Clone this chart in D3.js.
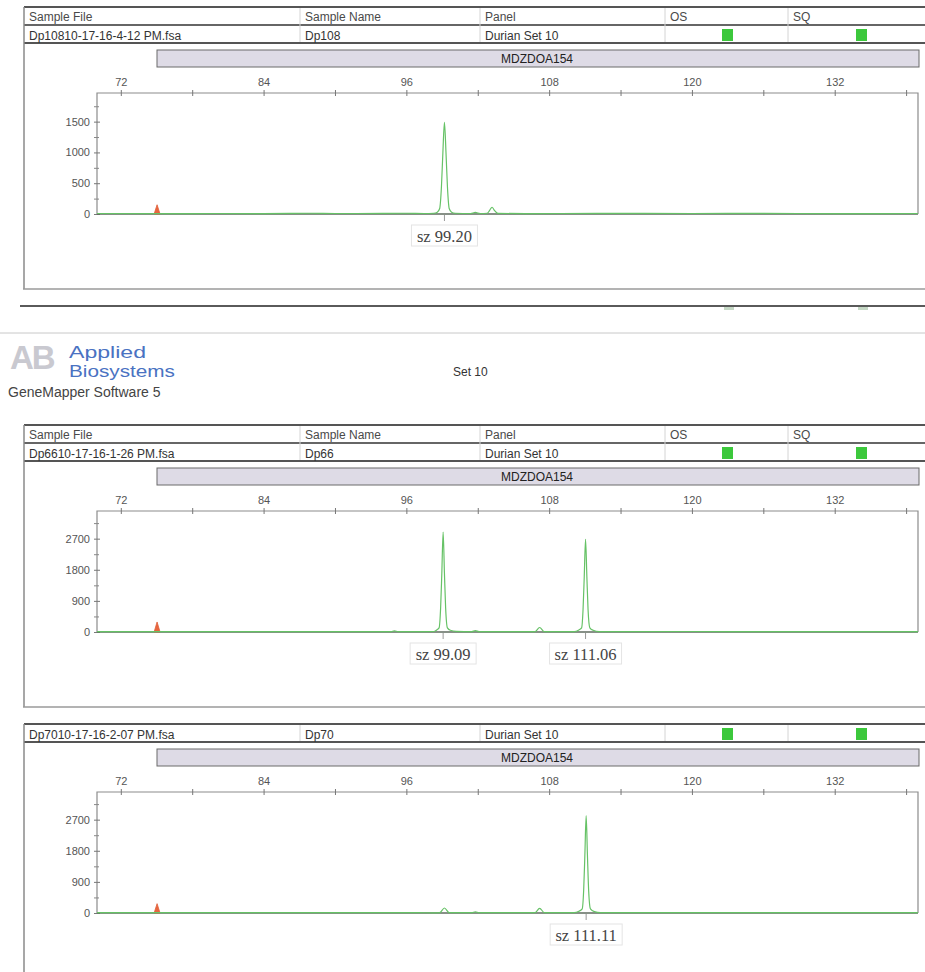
<!DOCTYPE html>
<html><head><meta charset="utf-8">
<script src="https://cdn.jsdelivr.net/npm/d3@7/dist/d3.min.js"></script>
<style>
html,body{margin:0;padding:0;background:#fff;}
svg{display:block;font-family:"Liberation Sans",Arial,sans-serif;}
</style></head><body>
<svg id="page" width="925" height="972"></svg>
<script>
// ---- data ----
const headerCols = ["Sample File", "Sample Name", "Panel", "OS", "SQ"];
const sampleFiles = ["Dp10810-17-16-4-12 PM.fsa", "Dp6610-17-16-1-26 PM.fsa", "Dp7010-17-16-2-07 PM.fsa"];
const sampleNames = ["Dp108", "Dp66", "Dp70"];
const panelNames = ["Durian Set 10", "Durian Set 10", "Durian Set 10"];
const markerName = "MDZDOA154";
const reportTitle = "Set 10";
const softwareName = "GeneMapper Software 5";

const bpDomain = [70, 139];
const xMajorTicks = [72, 84, 96, 108, 120, 132];
const xMinorTicks = [78, 90, 102, 114, 126, 138];
const yMax = [1965, 3500, 3500];
const yMajorTicks = [[0, 500, 1000, 1500], [0, 900, 1800, 2700], [0, 900, 1800, 2700]];
const yMinorTicks = [[250, 750, 1250, 1750], [450, 1350, 2250, 3150], [450, 1350, 2250, 3150]];

// allele calls (size in bp) for each sample
const sizeCalls = [[99.20], [99.09, 111.06], [111.11]];

// sample trace, [size bp, RFU]
const traceDp108 = [
  [70, 8], [76, 6], [80, 8], [84, 6], [88, 12], [90, 8], [94, 10], [96, 12], [97.5, 8],
  [98.3, 12], [98.6, 30], [98.8, 90], [98.95, 450], [99.07, 1000], [99.20, 1490],
  [99.33, 1000], [99.45, 450], [99.6, 90], [99.8, 30], [100.1, 12], [101.4, 8], [101.8, 25],
  [102.2, 8], [102.8, 12], [103.0, 60], [103.2, 110], [103.4, 60], [103.7, 10],
  [106, 6], [112, 10], [120, 8], [126, 10], [132, 6], [139, 8]
];
const traceDp66 = [
  [70, 8], [80, 8], [88, 10], [93, 8], [94.7, 10], [95.0, 35], [95.3, 10], [97, 8],
  [98.3, 15], [98.55, 60], [98.75, 120], [98.88, 700], [98.98, 1700], [99.09, 2890],
  [99.2, 1700], [99.3, 700], [99.45, 120], [99.7, 50], [100.2, 20], [101.5, 10], [101.8, 40],
  [102.1, 10], [106.8, 10], [107.2, 130], [107.6, 10], [110.1, 12], [110.5, 60],
  [110.73, 120], [110.85, 650], [110.95, 1600], [111.06, 2680], [111.17, 1600],
  [111.27, 650], [111.42, 120], [111.7, 50], [112.2, 12], [120, 15], [125, 8], [139, 8]
];
const traceDp70 = [
  [70, 8], [84, 8], [92, 10], [97, 8], [98.2, 6], [98.8, 12], [99.2, 145], [99.6, 12],
  [100.3, 8], [101.5, 8], [101.8, 35], [102.1, 8], [106.8, 8], [107.2, 135], [107.6, 10],
  [110.1, 10], [110.5, 50], [110.78, 120], [110.9, 650], [111.0, 1650], [111.11, 2816],
  [111.22, 1650], [111.32, 650], [111.47, 120], [111.8, 40], [112.3, 10], [120, 10], [139, 8]
];
const traces = [traceDp108, traceDp66, traceDp70];

// red size-standard peak near 75 bp
const sizeStdPeaks = [
  [[74.8, 0], [75.05, 150], [75.3, 0]],
  [[74.8, 0], [75.05, 290], [75.3, 0]],
  [[74.8, 0], [75.05, 270], [75.3, 0]]
];

// ---- layout ----
const layout = [
  { dataBottom: 43, header: true, boxBottom: 289 },
  { dataBottom: 461, header: true, boxBottom: 707 },
  { dataBottom: 742, header: false, boxBottom: null }
];
const colX = [29, 305, 485, 670, 793];
const colSep = [300, 480, 665, 788];
const W = 925, LEFT = 24;
const PX0 = 97, PX1 = 918;
const SANS = "Liberation Sans, Arial, sans-serif";
const SERIF = "Liberation Serif, Times New Roman, serif";

const svg = d3.select("#page");
svg.append("rect").attr("width", W).attr("height", 972).attr("fill", "#fff");

const x = d3.scaleLinear().domain(bpDomain).range([PX0, PX1]);

layout.forEach((L, i) => {
  const g = svg.append("g");
  const db = L.dataBottom;
  const rowTop = db - 18;
  const tableTop = L.header ? rowTop - 18 : rowTop;

  // table frame
  g.append("line").attr("x1", LEFT).attr("x2", W).attr("y1", tableTop).attr("y2", tableTop)
    .attr("stroke", "#555").attr("stroke-width", 2);
  if (L.header) {
    g.append("line").attr("x1", LEFT).attr("x2", W).attr("y1", rowTop).attr("y2", rowTop)
      .attr("stroke", "#666").attr("stroke-width", 2.2);
    headerCols.forEach((h, k) => {
      g.append("text").attr("x", colX[k]).attr("y", rowTop - 4).style("font-size", "12px")
        .style("fill", "#4a4a4a").text(h);
    });
  }
  g.append("line").attr("x1", LEFT).attr("x2", W).attr("y1", db).attr("y2", db)
    .attr("stroke", "#555").attr("stroke-width", 2);
  colSep.forEach(cx => {
    g.append("line").attr("x1", cx).attr("x2", cx).attr("y1", tableTop + 1).attr("y2", db - 1)
      .attr("stroke", "#d4d4d4").attr("stroke-width", 1);
  });
  g.append("line").attr("x1", LEFT).attr("x2", LEFT).attr("y1", tableTop)
    .attr("y2", L.boxBottom == null ? 972 : L.boxBottom)
    .attr("stroke", "#8a8a8a").attr("stroke-width", 1.5);

  // data row
  [sampleFiles[i], sampleNames[i], panelNames[i]].forEach((t, k) => {
    g.append("text").attr("x", colX[k]).attr("y", db - 3).style("font-size", "12px")
      .style("fill", "#333").text(t);
  });
  [722, 856].forEach(sx => {
    g.append("rect").attr("x", sx).attr("y", db - 14).attr("width", 11).attr("height", 12)
      .attr("fill", "#3cc83c");
  });

  // marker bin bar
  g.append("rect").attr("x", 157).attr("y", db + 7).attr("width", 762).attr("height", 17)
    .attr("fill", "#dedbe6").attr("stroke", "#6a6a6a").attr("stroke-width", 1);
  g.append("text").attr("x", 537).attr("y", db + 20).style("font-size", "12px")
    .attr("text-anchor", "middle").style("fill", "#222").text(markerName);

  // plot area
  const top = db + 50, base = db + 171;
  const y = d3.scaleLinear().domain([0, yMax[i]]).range([base, top]);

  g.append("path")
    .attr("d", `M${PX0},${base}V${top}H${PX1}V${base}`)
    .attr("fill", "none").attr("stroke", "#8c8c8c").attr("stroke-width", 1.2);

  // size axis along the top
  const ax = g.append("g").attr("transform", `translate(0,${top})`)
    .call(d3.axisTop(x).tickValues(xMajorTicks).tickSize(3).tickPadding(4).tickSizeOuter(0)
      .tickFormat(d3.format("d")));
  ax.select(".domain").remove();
  ax.selectAll(".tick line").attr("y1", 3).attr("stroke", "#777");
  ax.selectAll(".tick text").style("font-size", "11px").style("font-family", SANS).style("fill", "#555");
  const axm = g.append("g").attr("transform", `translate(0,${top})`)
    .call(d3.axisTop(x).tickValues(xMinorTicks).tickSize(3).tickFormat("").tickSizeOuter(0));
  axm.select(".domain").remove();
  axm.selectAll(".tick line").attr("y1", 3).attr("stroke", "#777");

  // RFU axis
  const ay = g.append("g").attr("transform", `translate(${PX0},0)`)
    .call(d3.axisLeft(y).tickValues(yMajorTicks[i]).tickSize(3).tickPadding(4).tickSizeOuter(0)
      .tickFormat(d3.format("d")));
  ay.select(".domain").remove();
  ay.selectAll(".tick line").attr("x1", 3).attr("stroke", "#777");
  ay.selectAll(".tick text").style("font-size", "11px").style("font-family", SANS).style("fill", "#555");
  const aym = g.append("g").attr("transform", `translate(${PX0},0)`)
    .call(d3.axisLeft(y).tickValues(yMinorTicks[i]).tickSize(3).tickFormat("").tickSizeOuter(0));
  aym.select(".domain").remove();
  aym.selectAll(".tick line").attr("x1", 2).attr("stroke", "#888");

  // baseline
  g.append("line").attr("x1", PX0).attr("x2", PX1).attr("y1", base).attr("y2", base)
    .attr("stroke", "#5f6b5f").attr("stroke-width", 1.6);

  // size-standard peak
  g.append("path")
    .attr("d", d3.area().x(d => x(d[0])).y0(base).y1(d => y(d[1]))(sizeStdPeaks[i]))
    .attr("fill", "#e8663f").attr("stroke", "#e0603a").attr("stroke-width", 0.8);

  // sample trace
  g.append("path")
    .attr("d", d3.line().x(d => x(d[0])).y(d => y(d[1])).curve(d3.curveMonotoneX)(traces[i]))
    .attr("fill", "none").attr("stroke", "#66c266").attr("stroke-width", 1.2);

  // allele call labels
  sizeCalls[i].forEach(c => {
    const px = x(c);
    g.append("line").attr("x1", px).attr("x2", px).attr("y1", base + 1).attr("y2", base + 7)
      .attr("stroke", "#999").attr("stroke-width", 1);
    const lbl = "sz " + c.toFixed(2);
    const wBox = lbl.length > 8 ? 72 : 66;
    g.append("rect").attr("x", px - wBox / 2).attr("y", base + 11).attr("width", wBox).attr("height", 21)
      .attr("fill", "#fff").attr("stroke", "#e4e4e4").attr("stroke-width", 1);
    g.append("text").attr("x", px).attr("y", base + 28).attr("text-anchor", "middle")
      .style("font-family", SERIF).style("font-size", "16.5px")
      .style("fill", "#444").text(lbl);
  });

  // panel box bottom
  if (L.boxBottom != null) {
    g.append("line").attr("x1", LEFT - 1).attr("x2", W).attr("y1", L.boxBottom).attr("y2", L.boxBottom)
      .attr("stroke", "#9a9a9a").attr("stroke-width", 1.5);
  }
});

// page break residue and report header
svg.append("line").attr("x1", 20).attr("x2", W).attr("y1", 306).attr("y2", 306)
  .attr("stroke", "#5a5a5a").attr("stroke-width", 2);
[724, 858].forEach(sx => {
  svg.append("rect").attr("x", sx).attr("y", 307).attr("width", 10).attr("height", 3).attr("fill", "#c5d8c5");
});
svg.append("line").attr("x1", 0).attr("x2", W).attr("y1", 333).attr("y2", 333)
  .attr("stroke", "#c8c8c8").attr("stroke-width", 1);

const logo = svg.append("g");
logo.append("text").attr("x", 10).attr("y", 369).style("font-size", "33px").style("font-weight", "bold")
  .style("fill", "#c9c9d0").attr("letter-spacing", -2).text("AB");
logo.append("text").attr("x", 69).attr("y", 358).style("font-size", "17px")
  .style("fill", "#4a72c2").attr("textLength", 77).attr("lengthAdjust", "spacingAndGlyphs").text("Applied");
logo.append("text").attr("x", 69).attr("y", 377).style("font-size", "17px")
  .style("fill", "#4a72c2").attr("textLength", 106).attr("lengthAdjust", "spacingAndGlyphs").text("Biosystems");
svg.append("text").attr("x", 8).attr("y", 397).style("font-size", "14px")
  .style("fill", "#444").text(softwareName);
svg.append("text").attr("x", 453).attr("y", 376).style("font-size", "12px")
  .style("fill", "#333").text(reportTitle);
</script>
</body></html>
